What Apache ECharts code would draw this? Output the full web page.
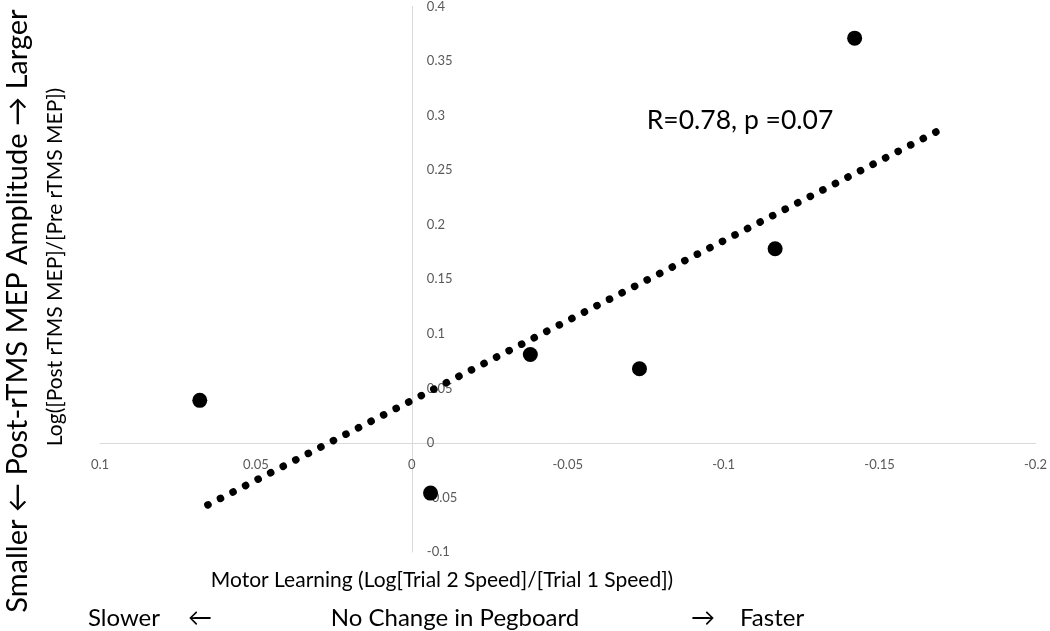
<!DOCTYPE html>
<html>
<head>
<meta charset="utf-8">
<title>MEP vs Motor Learning</title>
<script src="https://cdn.jsdelivr.net/npm/echarts@6/dist/echarts.min.js"></script>
<style>
  html, body { margin: 0; padding: 0; background: #fff; }
  #chart { width: 1050px; height: 631px; }
</style>
</head>
<body>
<div id="chart"></div>
<script>
// data
const learning = [0.068, -0.006, -0.038, -0.073, -0.1165, -0.142]   // x: log(trial2/trial1)
const mepChange = [0.039, -0.046, 0.081, 0.068, 0.178, 0.371]       // y: log(post/pre)
const trendX = [0.0654, -0.1698]
const trendY = [-0.0568, 0.2875]
const statText = 'R=0.78, p =0.07'

const fontFamily = 'Lato, "Open Sans", sans-serif'
const chart = echarts.init(document.getElementById('chart'))

const grid = { left: 100, right: 10, top: 6, bottom: 79 }

const option = {
  backgroundColor: '#fff',
  animation: false,
  grid: grid,
  xAxis: {
    type: 'value',
    inverse: true,
    min: -0.2,
    max: 0.1,
    interval: 0.05,
    axisLine: { onZero: false, lineStyle: { color: '#d9d9d9', width: 1 } },
    axisTick: { show: false },
    splitLine: { show: false },
    axisLabel: {
      color: '#595959',
      fontSize: 13,
      fontFamily: fontFamily,
      margin: 15,
      showMinLabel: true,
      showMaxLabel: true,
      formatter: v => String(+v.toFixed(2))
    }
  },
  yAxis: {
    type: 'value',
    min: -0.1,
    max: 0.4,
    interval: 0.05,
    axisLine: { onZero: false, lineStyle: { color: '#d9d9d9', width: 1 } },
    axisTick: { show: false },
    splitLine: { show: false },
    axisLabel: {
      inside: true,
      color: '#595959',
      fontSize: 13,
      fontFamily: fontFamily,
      margin: 15,
      showMinLabel: true,
      showMaxLabel: true,
      formatter: v => String(+v.toFixed(2))
    }
  },
  series: [
    {
      type: 'line',
      data: trendX.map((x, i) => [x, trendY[i]]),
      symbol: 'none',
      lineStyle: { color: '#000', width: 7.5, type: [0.1, 14], cap: 'round' },
      z: 2
    },
    {
      type: 'scatter',
      data: learning.map((x, i) => [x, mepChange[i]]),
      symbolSize: 15,
      itemStyle: { color: '#000', opacity: 1 },
      z: 3
    }
  ],
  graphic: [
    {
      type: 'text', x: 740, y: 120,
      style: { text: statText, font: '26.5px ' + fontFamily, fill: '#000', align: 'center', verticalAlign: 'middle' }
    },
    {
      type: 'text', x: 18, y: 311, rotation: Math.PI / 2,
      style: { text: 'Smaller \u2190 Post-rTMS MEP Amplitude \u2192 Larger', font: '29px ' + fontFamily, fill: '#000', align: 'center', verticalAlign: 'middle' }
    },
    {
      type: 'text', x: 55, y: 267, rotation: Math.PI / 2,
      style: { text: 'Log([Post rTMS MEP]/[Pre rTMS MEP])', font: '21px ' + fontFamily, fill: '#000', align: 'center', verticalAlign: 'middle' }
    },
    {
      type: 'text', x: 442, y: 580,
      style: { text: 'Motor Learning (Log[Trial 2 Speed]/[Trial 1 Speed])', font: '21px ' + fontFamily, fill: '#000', align: 'center', verticalAlign: 'middle' }
    },
    {
      type: 'text', x: 88, y: 618,
      style: { text: 'Slower', font: '24px ' + fontFamily, fill: '#000', align: 'left', verticalAlign: 'middle' }
    },
    {
      type: 'text', x: 200, y: 618,
      style: { text: '\u2190', font: '24px ' + fontFamily, fill: '#000', align: 'center', verticalAlign: 'middle' }
    },
    {
      type: 'text', x: 455, y: 618,
      style: { text: 'No Change in Pegboard', font: '24px ' + fontFamily, fill: '#000', align: 'center', verticalAlign: 'middle' }
    },
    {
      type: 'text', x: 703, y: 618,
      style: { text: '\u2192', font: '24px ' + fontFamily, fill: '#000', align: 'center', verticalAlign: 'middle' }
    },
    {
      type: 'text', x: 740, y: 618,
      style: { text: 'Faster', font: '24px ' + fontFamily, fill: '#000', align: 'left', verticalAlign: 'middle' }
    }
  ]
}

chart.setOption(option)

// move both axes (line + labels) so they cross at the origin, like the Excel chart
const origin = chart.convertToPixel({ gridIndex: 0 }, [0, 0])
const gridBottom = 631 - grid.bottom
chart.setOption({
  xAxis: { offset: -(gridBottom - origin[1]) },
  yAxis: { offset: -(origin[0] - grid.left) }
})
</script>
</body>
</html>
